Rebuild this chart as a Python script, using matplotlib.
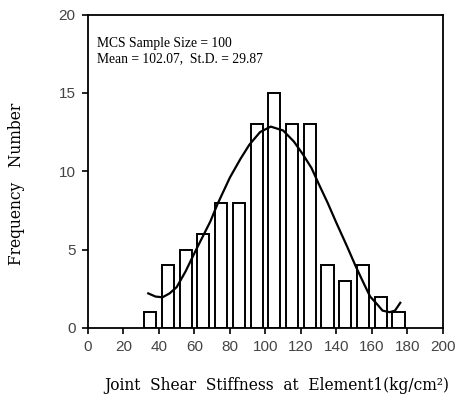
#!/usr/bin/env python3
# -*- coding: utf-8 -*-

##-Imports
import numpy as np
import matplotlib
matplotlib.use('Agg')
import matplotlib.pyplot as plt

##-Data
bin_centers = [35, 45, 55, 65, 75, 85, 95, 105, 115, 125, 135, 145, 155, 165, 175]
counts = [1, 4, 5, 6, 8, 8, 13, 15, 13, 13, 4, 3, 4, 2, 1]

# fitted curve
curve_x = [34, 38, 42, 46, 50, 55, 61, 65, 69, 73, 80, 86, 91, 97, 103,
           110, 116, 121, 126, 130, 135, 140, 146, 151, 156, 159, 163, 166, 170, 173, 176]
curve_y = [2.2, 2.0, 1.95, 2.2, 2.6, 3.6, 5.0, 5.9, 6.8, 7.9, 9.6, 10.8, 11.7, 12.5, 12.85,
           12.6, 11.9, 11.1, 10.2, 9.2, 8.0, 6.7, 5.2, 3.9, 2.7, 2.0, 1.5, 1.1, 1.0, 1.1, 1.6]

xticks = [0, 20, 40, 60, 80, 100, 120, 140, 160, 180, 200]
yticks = [0, 5, 10, 15, 20]

label_x = 'Joint  Shear  Stiffness  at  Element1(kg/cm\u00b2)'
label_y = 'Frequency   Number'
note = 'MCS Sample Size = 100\nMean = 102.07,  St.D. = 29.87'

##-Plot
fig = plt.figure(figsize=(4.58, 3.95), dpi=100)
ax = fig.add_axes([0.192, 0.170, 0.775, 0.793])

ax.bar(bin_centers, counts, width=6.8, color='white', edgecolor='black', linewidth=1.4, zorder=2)
ax.plot(curve_x, curve_y, color='black', linewidth=1.6, zorder=3)

ax.set_xlim(0, 200)
ax.set_ylim(0, 20)
ax.set_xticks(xticks)
ax.set_yticks(yticks)

for s in ax.spines.values():
    s.set_linewidth(1.3)

ax.tick_params(direction='out', length=4, width=1.2, labelsize=11, colors='black',
               labelcolor='#444444', pad=5)
for lab in ax.get_xticklabels() + ax.get_yticklabels():
    lab.set_family('Liberation Sans')

# axis titles placed on the figure, as in the scan
fig.text(277 / 458, 1 - 385 / 395, label_x, family='DejaVu Serif', fontsize=11.2,
         ha='center', va='center')
fig.text(17 / 458, 1 - 184 / 395, label_y, family='DejaVu Serif', fontsize=11.2,
         ha='center', va='center', rotation=90)

ax.text(0.025, 0.93, note, transform=ax.transAxes, family='Liberation Serif',
        fontsize=9.8, va='top', ha='left', linespacing=1.3)

fig.savefig('out.png', dpi=100)
